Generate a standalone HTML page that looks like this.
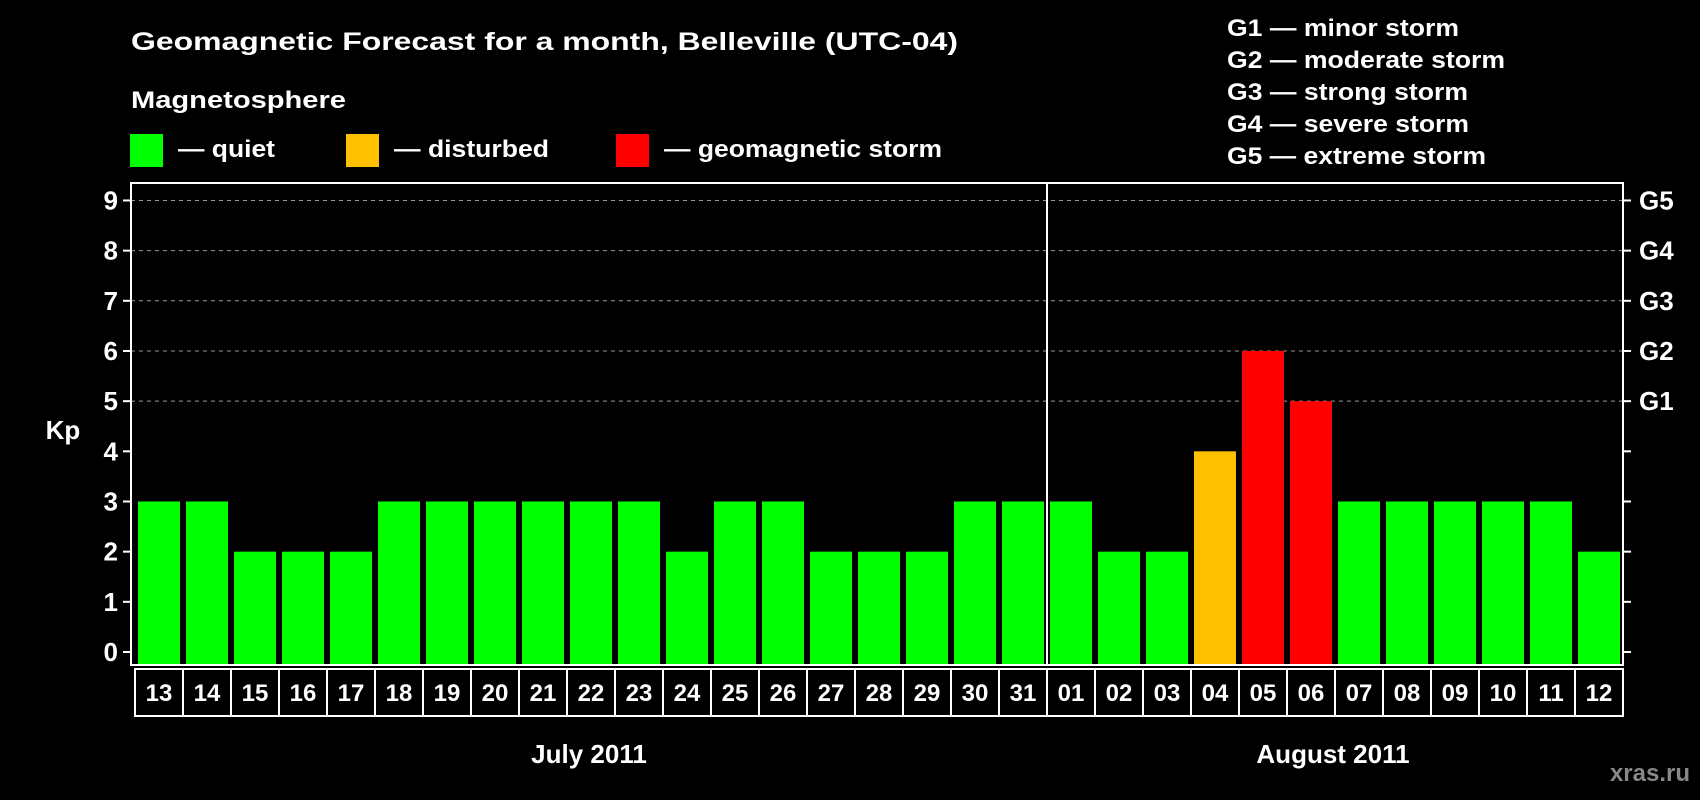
<!DOCTYPE html>
<html><head><meta charset="utf-8"><style>
html,body{margin:0;padding:0;background:#000;}
svg{display:block;font-family:"Liberation Sans",Arial,sans-serif;font-weight:bold;}
</style></head><body>
<svg id="chart" width="1700" height="800" viewBox="0 0 1700 800">
<rect x="0" y="0" width="1700" height="800" fill="#000"/>
<text x="131" y="50" fill="#fff" font-size="25" textLength="827" lengthAdjust="spacingAndGlyphs">Geomagnetic Forecast for a month, Belleville (UTC-04)</text>
<text x="131" y="108" fill="#fff" font-size="24" textLength="215" lengthAdjust="spacingAndGlyphs">Magnetosphere</text>
<g>
<rect x="130" y="134" width="33" height="33" fill="#00ff00"/>
<text x="178" y="157" fill="#fff" font-size="24" textLength="97" lengthAdjust="spacingAndGlyphs">— quiet</text></g>
<g>
<rect x="346" y="134" width="33" height="33" fill="#ffc000"/>
<text x="394" y="157" fill="#fff" font-size="24" textLength="155" lengthAdjust="spacingAndGlyphs">— disturbed</text></g>
<g>
<rect x="616" y="134" width="33" height="33" fill="#ff0000"/>
<text x="664" y="157" fill="#fff" font-size="24" textLength="278" lengthAdjust="spacingAndGlyphs">— geomagnetic storm</text></g>
<g font-size="24" fill="#fff">
<text x="1227" y="36" textLength="232" lengthAdjust="spacingAndGlyphs">G1 — minor storm</text>
<text x="1227" y="68" textLength="278" lengthAdjust="spacingAndGlyphs">G2 — moderate storm</text>
<text x="1227" y="100" textLength="241" lengthAdjust="spacingAndGlyphs">G3 — strong storm</text>
<text x="1227" y="132" textLength="242" lengthAdjust="spacingAndGlyphs">G4 — severe storm</text>
<text x="1227" y="164" textLength="259" lengthAdjust="spacingAndGlyphs">G5 — extreme storm</text>
</g>
<g id="grid"></g><g id="bars"></g><g id="axes"></g>
<text x="63" y="439" fill="#fff" font-size="26" text-anchor="middle">Kp</text>
<text x="589" y="763" fill="#fff" font-size="26" text-anchor="middle">July 2011</text>
<text x="1333" y="763" fill="#fff" font-size="26" text-anchor="middle">August 2011</text>
<text x="1690" y="781" fill="#888" font-size="24" text-anchor="end">xras.ru</text>
</svg>
<script>
const days = ["13","14","15","16","17","18","19","20","21","22","23","24","25","26","27","28","29","30","31","01","02","03","04","05","06","07","08","09","10","11","12"];
const kpValues = [3,3,2,2,2,3,3,3,3,3,3,2,3,3,2,2,2,3,3,3,2,2,4,6,5,3,3,3,3,3,2];
const yTicks = [0,1,2,3,4,5,6,7,8,9];
const gLabels = ["","","","","","G1","G2","G3","G4","G5"];
const monthSplit = 19;

const NS = "http://www.w3.org/2000/svg";
const X0 = 135, CW = 48, FL = 131, FR = 1623, FT = 183, FB = 665;
const y = v => 652 - v * 50.17;
const x = i => X0 + i * CW;
function mk(tag, attrs, parent){const e=document.createElementNS(NS,tag);for(const k in attrs)e.setAttribute(k,attrs[k]);parent.appendChild(e);return e;}
const grid = document.getElementById("grid"), bars = document.getElementById("bars"), axes = document.getElementById("axes");
const color = v => v >= 5 ? "#ff0000" : (v >= 4 ? "#ffc000" : "#00ff00");

yTicks.forEach((t, i) => {
  if (t >= 5) {
    const g = mk("line",{x1:FL,x2:FR,y1:y(t),y2:y(t),stroke:"#999","stroke-width":1,"stroke-dasharray":"4,4"},grid);
    
    
  }
  const tl = mk("line",{x1:FL-8,x2:FL,y1:y(t),y2:y(t),stroke:"#fff","stroke-width":2},axes);
  
  
  const tr = mk("line",{x1:FR,x2:FR+8,y1:y(t),y2:y(t),stroke:"#fff","stroke-width":2},axes);
  
  
  const lb = mk("text",{x:118,y:y(t)+9,fill:"#fff","font-size":26,"text-anchor":"end"},axes);
  lb.textContent = t;
  
  
  if (gLabels[i]) {
    const gl = mk("text",{x:1639,y:y(t)+9,fill:"#fff","font-size":26},axes);
    gl.textContent = gLabels[i];
    
    
  }
});

kpValues.forEach((v, i) => {
  const r = mk("rect",{x:x(i)+3,y:y(v),width:42,height:FB-y(v),fill:color(v)},bars);
  
  
});

const frame = mk("rect",{x:FL,y:FT,width:FR-FL,height:FB-FT,fill:"none",stroke:"#fff","stroke-width":2},axes);


const div = mk("line",{x1:x(monthSplit),x2:x(monthSplit),y1:FT,y2:FB,stroke:"#fff","stroke-width":2},axes);



days.forEach((d, i) => {
  const c = mk("rect",{x:x(i),y:669,width:CW,height:47,fill:"none",stroke:"#fff","stroke-width":2},axes);
  
  
  const t = mk("text",{x:x(i)+CW/2,y:701,fill:"#fff","font-size":24,"text-anchor":"middle"},axes);
  t.textContent = d;
  
  
});
</script>
</body></html>
